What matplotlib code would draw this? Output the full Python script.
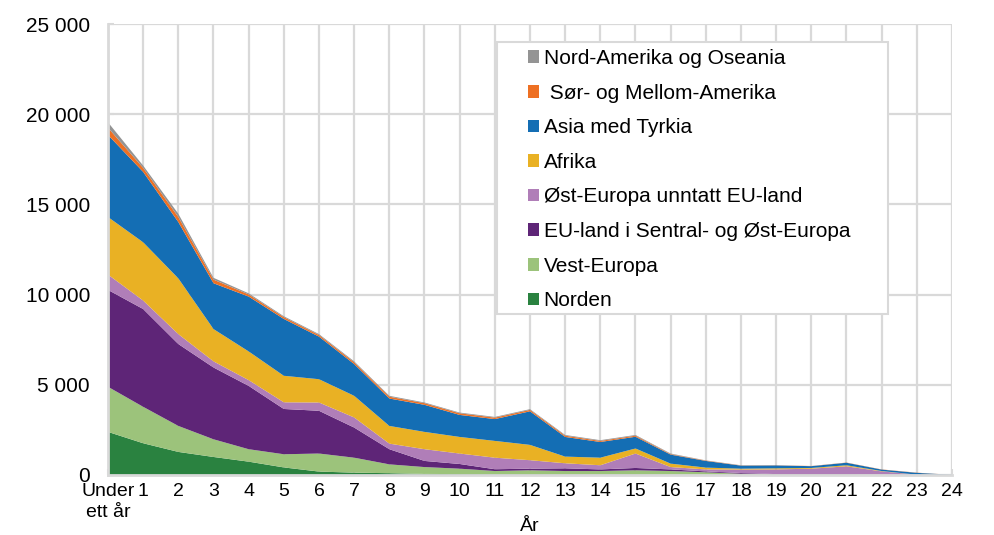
import numpy as np
import matplotlib.pyplot as plt
from matplotlib.patches import Patch, Rectangle

plt.rcParams['font.family'] = ['Liberation Sans', 'DejaVu Sans']

# Years of residence
categories = ["Under\nett år"] + [str(i) for i in range(1, 25)]

# Series values (persons)
norden = [2390, 1760, 1280, 1000, 740, 420, 190, 130, 100, 60, 50, 40, 40, 30, 30, 30, 20, 20, 10, 10, 10, 10, 0, 0, 0]
vest_europa = [2500, 2020, 1440, 980, 690, 730, 1000, 830, 490, 380, 300, 180, 220, 190, 190, 230, 200, 130, 60, 20, 20, 20, 10, 0, 0]
eu_sentral_ost = [5370, 5420, 4540, 3980, 3510, 2510, 2370, 1670, 840, 340, 260, 100, 90, 150, 90, 130, 90, 50, 40, 20, 20, 20, 10, 0, 0]
ost_europa = [850, 470, 550, 340, 320, 370, 460, 560, 310, 650, 580, 640, 470, 280, 230, 800, 130, 110, 190, 260, 300, 430, 180, 20, 0]
afrika = [3190, 3230, 3090, 1790, 1590, 1470, 1290, 1200, 980, 960, 920, 930, 850, 370, 420, 280, 190, 100, 50, 60, 40, 60, 20, 0, 0]
asia = [4550, 3900, 3120, 2540, 3040, 3150, 2360, 1760, 1520, 1500, 1220, 1210, 1860, 1090, 870, 650, 500, 370, 170, 160, 100, 140, 80, 100, 10]
sor_mellom = [400, 220, 280, 200, 120, 100, 90, 100, 100, 90, 90, 80, 80, 70, 60, 60, 30, 20, 10, 10, 10, 10, 10, 10, 0]
nord_amerika = [300, 130, 180, 100, 60, 50, 50, 50, 50, 40, 40, 40, 40, 40, 40, 40, 30, 10, 10, 0, 0, 0, 0, 0, 0]

labels = ["Norden", "Vest-Europa", "EU-land i Sentral- og Øst-Europa",
          "Øst-Europa unntatt EU-land", "Afrika", "Asia med Tyrkia",
          " Sør- og Mellom-Amerika", "Nord-Amerika og Oseania"]
colors = ["#2a8240", "#9cc37b", "#5e2577", "#b07eb8", "#e9b124",
          "#146eb4", "#ee7023", "#949494"]

y_ticks = [0, 5000, 10000, 15000, 20000, 25000]
y_tick_labels = ["0", "5 000", "10 000", "15 000", "20 000", "25 000"]

grid_col = "#d9d9d9"

fig = plt.figure(figsize=(9.95, 5.35), dpi=100)
ax = fig.add_axes([108 / 995, 1 - 475 / 535, (952 - 108) / 995, (475 - 24) / 535])

x = np.arange(len(categories))
series = [norden, vest_europa, eu_sentral_ost, ost_europa, afrika, asia, sor_mellom, nord_amerika]
ax.stackplot(x, *series, colors=colors, linewidth=0, zorder=2)

# gridlines behind the areas
for xi in x:
    ax.axvline(xi, color=grid_col, lw=1.6, zorder=0)
for yt in y_ticks:
    ax.axhline(yt, color=grid_col, lw=1.6, zorder=0)

ax.set_xlim(0, 24)
ax.set_ylim(0, 25000)
ax.set_xticks(x)
ax.set_xticklabels(categories, fontsize=14, linespacing=1.3)
ax.set_yticks(y_ticks)
ax.set_yticklabels(y_tick_labels, fontsize=15)
ax.tick_params(axis='x', direction='in', length=4, width=1.5, color=grid_col, pad=6)
ax.tick_params(axis='y', direction='in', length=4, width=1.5, color=grid_col, pad=13)

for s in ['top', 'right']:
    ax.spines[s].set_visible(False)
for s in ['left', 'bottom']:
    ax.spines[s].set_color(grid_col)
    ax.spines[s].set_linewidth(2)

ax.set_xlabel("År", fontsize=14)
ax.xaxis.set_label_coords(0.5, -0.096)

# legend box
fig.patches.append(Rectangle((497 / 995, 1 - 314 / 535), (888 - 497) / 995, (314 - 42) / 535,
                             transform=fig.transFigure, facecolor='white',
                             edgecolor=grid_col, linewidth=1.5, zorder=3))
handles = [Patch(facecolor=c, edgecolor='none') for c in colors][::-1]
leg = fig.legend(handles, labels[::-1], loc='upper left',
                 bbox_to_anchor=(528 / 995, 1 - 49 / 535), frameon=False,
                 fontsize=15, handlelength=0.55, handleheight=0.55,
                 handletextpad=0.2, labelspacing=0.75, borderpad=0, borderaxespad=0)
leg.set_zorder(4)

fig.savefig("out.png", dpi=100)
